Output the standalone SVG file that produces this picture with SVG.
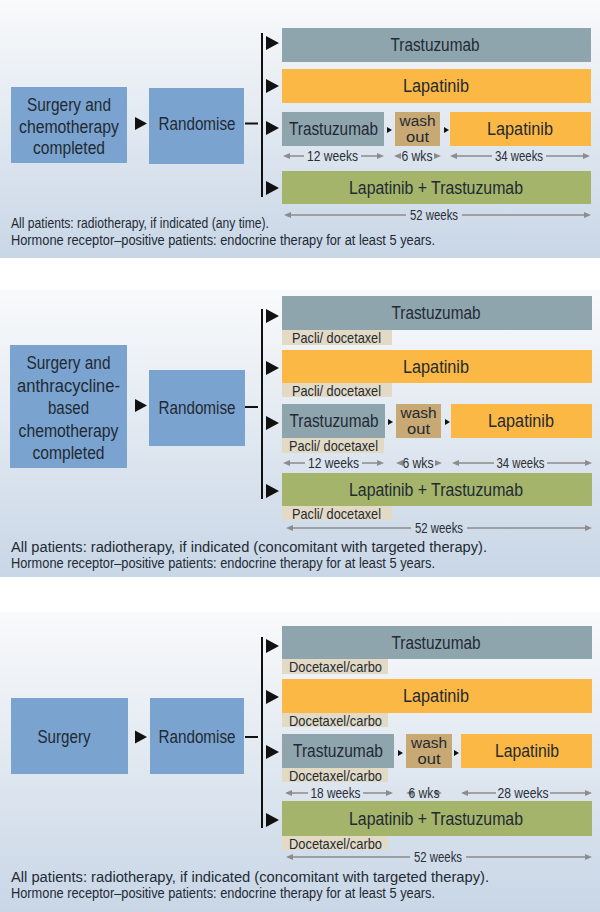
<svg xmlns="http://www.w3.org/2000/svg" width="600" height="912" viewBox="0 0 600 912">
<defs>
<linearGradient id="bg" x1="0" y1="0" x2="0" y2="1">
<stop offset="0" stop-color="#f9fafb"/>
<stop offset="1" stop-color="#c8d6e6"/>
</linearGradient>
<style>
text{font-family:"Liberation Sans",Arial,sans-serif;fill:#1f2a33}
.big{font-size:17.5px;text-anchor:middle}
.ws{font-size:14px;text-anchor:middle}
.lbl{font-size:14.5px}
.wk{font-size:14px;text-anchor:middle;fill:#2a2f35}
.note{font-size:14px}
.blue{fill:#7ba3cf}
.tra{fill:#8fa5ae}
.lap{fill:#fbb844}
.wash{fill:#c8a873}
.grn{fill:#a4b46b}
.chemo{fill:#e2dac5}
.bar{stroke:#111;stroke-width:2;fill:none}
.tri{fill:#111}
.gl{stroke:#8c8c8c;stroke-width:1.4;fill:none}
.gh{fill:#8c8c8c}
</style>
</defs>

<!-- Panel backgrounds -->
<rect x="0" y="0" width="600" height="258" fill="url(#bg)"/>
<rect x="0" y="290" width="600" height="287" fill="url(#bg)"/>
<rect x="0" y="612" width="600" height="300" fill="url(#bg)"/>

<!-- ================= PANEL 1 ================= -->
<g id="p1-start">
<rect class="blue" x="11" y="87" width="116" height="76"/>
<text class="big" x="69" y="111" textLength="84" lengthAdjust="spacingAndGlyphs">Surgery and</text>
<text class="big" x="69" y="132.5" textLength="100" lengthAdjust="spacingAndGlyphs">chemotherapy</text>
<text class="big" x="69" y="154" textLength="72" lengthAdjust="spacingAndGlyphs">completed</text>
</g>
<g id="p1-randomise">
<rect class="blue" x="149" y="88" width="95" height="76"/>
<text class="big" x="197" y="130" textLength="77" lengthAdjust="spacingAndGlyphs">Randomise</text>
</g>
<g id="p1-arm1">
<rect class="tra" x="282" y="28" width="309" height="34"/>
<text class="big" x="435" y="51" textLength="89" lengthAdjust="spacingAndGlyphs">Trastuzumab</text>
</g>
<g id="p1-arm2">
<rect class="lap" x="282" y="69" width="309" height="34"/>
<text class="big" x="436" y="92" textLength="66" lengthAdjust="spacingAndGlyphs">Lapatinib</text>
</g>
<g id="p1-arm3-tra">
<rect class="tra" x="282" y="112" width="102" height="34"/>
<text class="big" x="333.5" y="135" textLength="89" lengthAdjust="spacingAndGlyphs">Trastuzumab</text>
</g>
<g id="p1-arm3-wash">
<rect class="wash" x="395" y="112" width="45" height="34"/>
<text class="ws" x="417.5" y="125.5" textLength="36" lengthAdjust="spacingAndGlyphs">wash</text>
<text class="ws" x="417.5" y="141.5" textLength="23" lengthAdjust="spacingAndGlyphs">out</text>
</g>
<g id="p1-arm3-lap">
<rect class="lap" x="450" y="112" width="141" height="34"/>
<text class="big" x="520" y="135" textLength="66" lengthAdjust="spacingAndGlyphs">Lapatinib</text>
</g>
<g id="p1-arm4">
<rect class="grn" x="282" y="171" width="309" height="33"/>
<text class="big" x="436" y="193.5" textLength="174" lengthAdjust="spacingAndGlyphs">Lapatinib + Trastuzumab</text>
</g>
<g id="p1-weeks">
<path class="gh" d="M283,156 l7,-3 v6z M384,156 l-7,-3 v6z M394,156 l7,-3 v6z M441,156 l-7,-3 v6z M450,156 l7,-3 v6z M590,156 l-7,-3 v6z M284,215 l7,-3 v6z M591,215 l-7,-3 v6z"/>
<path class="gl" d="M288,156 H304 M361,156 H379 M455,156 H492 M546,156 H585 M289,215 H406 M462,215 H586"/>
<text class="wk" x="332.5" y="161" textLength="51" lengthAdjust="spacingAndGlyphs">12 weeks</text>
<text class="wk" x="417" y="161" textLength="31" lengthAdjust="spacingAndGlyphs">6 wks</text>
<text class="wk" x="519" y="161" textLength="48" lengthAdjust="spacingAndGlyphs">34 weeks</text>
<text class="wk" x="434" y="220" textLength="48" lengthAdjust="spacingAndGlyphs">52 weeks</text>
</g>
<g id="p1-notes">
<text class="note" x="11" y="228" textLength="258" lengthAdjust="spacingAndGlyphs">All patients: radiotherapy, if indicated (any time).</text>
<text class="note" x="11" y="245" textLength="424" lengthAdjust="spacingAndGlyphs">Hormone receptor–positive patients: endocrine therapy for at least 5 years.</text>
</g>
<g id="p1-connectors">
<path class="tri" d="M135,117 L147,123.5 L135,130z"/>
<line x1="245" y1="123.5" x2="258" y2="123.5" stroke="#111" stroke-width="2"/>
<line class="bar" x1="262" y1="33" x2="262" y2="197"/>
<path class="tri" d="M266,36 L279,43 L266,50z M266,79 L279,86 L266,93z M266,121 L279,128 L266,135z M266,181 L279,188 L266,195z"/>
<path class="tri" d="M387,127 L392,130 L387,133z M444,127 L449,130 L444,133z"/>
</g>

<!-- ================= PANEL 2 ================= -->
<g id="p2-start">
<rect class="blue" x="10" y="345" width="117" height="123"/>
<text class="big" x="68.5" y="369" textLength="84" lengthAdjust="spacingAndGlyphs">Surgery and</text>
<text class="big" x="68.5" y="391.5" textLength="103" lengthAdjust="spacingAndGlyphs">anthracycline-</text>
<text class="big" x="68.5" y="414" textLength="41" lengthAdjust="spacingAndGlyphs">based</text>
<text class="big" x="68.5" y="436.5" textLength="100" lengthAdjust="spacingAndGlyphs">chemotherapy</text>
<text class="big" x="68.5" y="459" textLength="72" lengthAdjust="spacingAndGlyphs">completed</text>
</g>
<g id="p2-randomise">
<rect class="blue" x="149" y="370" width="96" height="76"/>
<text class="big" x="197" y="414" textLength="77" lengthAdjust="spacingAndGlyphs">Randomise</text>
</g>
<g id="p2-arm1">
<rect class="tra" x="282" y="296" width="310" height="34"/>
<text class="big" x="436" y="319" textLength="89" lengthAdjust="spacingAndGlyphs">Trastuzumab</text>
<rect class="chemo" x="282" y="330" width="110" height="15"/>
<text class="lbl" x="292" y="343" textLength="89" lengthAdjust="spacingAndGlyphs">Pacli/ docetaxel</text>
</g>
<g id="p2-arm2">
<rect class="lap" x="282" y="350" width="310" height="33"/>
<text class="big" x="436" y="372.5" textLength="66" lengthAdjust="spacingAndGlyphs">Lapatinib</text>
<rect class="chemo" x="282" y="383" width="110" height="14"/>
<text class="lbl" x="292" y="395.5" textLength="89" lengthAdjust="spacingAndGlyphs">Pacli/ docetaxel</text>
</g>
<g id="p2-arm3-tra">
<rect class="tra" x="282" y="404" width="103" height="34"/>
<text class="big" x="334" y="427" textLength="89" lengthAdjust="spacingAndGlyphs">Trastuzumab</text>
<rect class="chemo" x="282" y="438" width="102" height="15"/>
<text class="lbl" x="289" y="451" textLength="89" lengthAdjust="spacingAndGlyphs">Pacli/ docetaxel</text>
</g>
<g id="p2-arm3-wash">
<rect class="wash" x="396" y="404" width="45" height="34"/>
<text class="ws" x="418.5" y="417.5" textLength="36" lengthAdjust="spacingAndGlyphs">wash</text>
<text class="ws" x="418.5" y="433.5" textLength="23" lengthAdjust="spacingAndGlyphs">out</text>
</g>
<g id="p2-arm3-lap">
<rect class="lap" x="451" y="404" width="141" height="34"/>
<text class="big" x="521" y="427" textLength="66" lengthAdjust="spacingAndGlyphs">Lapatinib</text>
</g>
<g id="p2-arm4">
<rect class="grn" x="282" y="473" width="310" height="33"/>
<text class="big" x="436" y="495.5" textLength="174" lengthAdjust="spacingAndGlyphs">Lapatinib + Trastuzumab</text>
<rect class="chemo" x="282" y="506" width="110" height="14"/>
<text class="lbl" x="292" y="518.5" textLength="89" lengthAdjust="spacingAndGlyphs">Pacli/ docetaxel</text>
</g>
<g id="p2-weeks">
<path class="gh" d="M283,463 l7,-3 v6z M384,463 l-7,-3 v6z M396,463 l7,-3 v6z M442,463 l-7,-3 v6z M452,463 l7,-3 v6z M592,463 l-7,-3 v6z M286,528 l7,-3 v6z M592,528 l-7,-3 v6z"/>
<path class="gl" d="M288,463 H305 M362,463 H379 M457,463 H494 M547,463 H587 M291,528 H411 M467,528 H587"/>
<text class="wk" x="333.5" y="468" textLength="51" lengthAdjust="spacingAndGlyphs">12 weeks</text>
<text class="wk" x="418" y="468" textLength="31" lengthAdjust="spacingAndGlyphs">6 wks</text>
<text class="wk" x="520.5" y="468" textLength="48" lengthAdjust="spacingAndGlyphs">34 weeks</text>
<text class="wk" x="439" y="533" textLength="48" lengthAdjust="spacingAndGlyphs">52 weeks</text>
</g>
<g id="p2-notes">
<text class="note" x="11" y="552" textLength="476" lengthAdjust="spacingAndGlyphs">All patients: radiotherapy, if indicated (concomitant with targeted therapy).</text>
<text class="note" x="11" y="568" textLength="424" lengthAdjust="spacingAndGlyphs">Hormone receptor–positive patients: endocrine therapy for at least 5 years.</text>
</g>
<g id="p2-connectors">
<path class="tri" d="M135,399 L147,405.5 L135,412z"/>
<line x1="245" y1="407" x2="258" y2="407" stroke="#111" stroke-width="2"/>
<line class="bar" x1="262" y1="309" x2="262" y2="499"/>
<path class="tri" d="M266,309 L279,316 L266,323z M266,361 L279,368 L266,375z M266,416 L279,423 L266,430z M266,484 L279,491 L266,498z"/>
<path class="tri" d="M388,419 L393,422 L388,425z M445,419 L450,422 L445,425z"/>
</g>

<!-- ================= PANEL 3 ================= -->
<g id="p3-start">
<rect class="blue" x="11" y="698" width="117" height="76"/>
<text class="big" x="64" y="742.5" textLength="53" lengthAdjust="spacingAndGlyphs">Surgery</text>
</g>
<g id="p3-randomise">
<rect class="blue" x="150" y="698" width="94" height="76"/>
<text class="big" x="197" y="742.5" textLength="77" lengthAdjust="spacingAndGlyphs">Randomise</text>
</g>
<g id="p3-arm1">
<rect class="tra" x="282" y="626" width="310" height="33"/>
<text class="big" x="436" y="648.5" textLength="89" lengthAdjust="spacingAndGlyphs">Trastuzumab</text>
<rect class="chemo" x="282" y="659" width="106" height="15"/>
<text class="lbl" x="289" y="672" textLength="93" lengthAdjust="spacingAndGlyphs">Docetaxel/carbo</text>
</g>
<g id="p3-arm2">
<rect class="lap" x="282" y="679" width="310" height="34"/>
<text class="big" x="436" y="702" textLength="66" lengthAdjust="spacingAndGlyphs">Lapatinib</text>
<rect class="chemo" x="282" y="713" width="106" height="14"/>
<text class="lbl" x="289" y="725.5" textLength="93" lengthAdjust="spacingAndGlyphs">Docetaxel/carbo</text>
</g>
<g id="p3-arm3-tra">
<rect class="tra" x="282" y="734" width="112" height="34"/>
<text class="big" x="338" y="757" textLength="90" lengthAdjust="spacingAndGlyphs">Trastuzumab</text>
<rect class="chemo" x="282" y="768" width="106" height="14"/>
<text class="lbl" x="289" y="780.5" textLength="93" lengthAdjust="spacingAndGlyphs">Docetaxel/carbo</text>
</g>
<g id="p3-arm3-wash">
<rect class="wash" x="406" y="734" width="46" height="34"/>
<text class="ws" x="429" y="747.5" textLength="36" lengthAdjust="spacingAndGlyphs">wash</text>
<text class="ws" x="429" y="763.5" textLength="23" lengthAdjust="spacingAndGlyphs">out</text>
</g>
<g id="p3-arm3-lap">
<rect class="lap" x="461" y="734" width="131" height="34"/>
<text class="big" x="527" y="757" textLength="64" lengthAdjust="spacingAndGlyphs">Lapatinib</text>
</g>
<g id="p3-arm4">
<rect class="grn" x="282" y="801" width="310" height="35"/>
<text class="big" x="436" y="824.5" textLength="174" lengthAdjust="spacingAndGlyphs">Lapatinib + Trastuzumab</text>
<rect class="chemo" x="282" y="836" width="106" height="14"/>
<text class="lbl" x="289" y="848.5" textLength="93" lengthAdjust="spacingAndGlyphs">Docetaxel/carbo</text>
</g>
<g id="p3-weeks">
<path class="gh" d="M285,793 l7,-3 v6z M393,793 l-7,-3 v6z M406,793 l7,-3 v6z M442,793 l-7,-3 v6z M461,793 l7,-3 v6z M592,793 l-7,-3 v6z M286,857 l7,-3 v6z M592,857 l-7,-3 v6z"/>
<path class="gl" d="M290,793 H308 M363,793 H388 M466,793 H496 M550,793 H587 M291,857 H410 M466,857 H587"/>
<text class="wk" x="335.5" y="798" textLength="50" lengthAdjust="spacingAndGlyphs">18 weeks</text>
<text class="wk" x="424" y="798" textLength="31" lengthAdjust="spacingAndGlyphs">6 wks</text>
<text class="wk" x="523" y="798" textLength="51" lengthAdjust="spacingAndGlyphs">28 weeks</text>
<text class="wk" x="438" y="862" textLength="48" lengthAdjust="spacingAndGlyphs">52 weeks</text>
</g>
<g id="p3-notes">
<text class="note" x="11" y="882" textLength="478" lengthAdjust="spacingAndGlyphs">All patients: radiotherapy, if indicated (concomitant with targeted therapy).</text>
<text class="note" x="11" y="898" textLength="424" lengthAdjust="spacingAndGlyphs">Hormone receptor–positive patients: endocrine therapy for at least 5 years.</text>
</g>
<g id="p3-connectors">
<path class="tri" d="M135,730.5 L147,737 L135,743.5z"/>
<line x1="245" y1="737" x2="258" y2="737" stroke="#111" stroke-width="2"/>
<line class="bar" x1="262" y1="637" x2="262" y2="828"/>
<path class="tri" d="M266,639 L279,646 L266,653z M266,690 L279,697 L266,704z M266,745 L279,752 L266,759z M266,813 L279,820 L266,827z"/>
<path class="tri" d="M398,750 L403,753 L398,756z M454,750 L459,753 L454,756z"/>
</g>
</svg>
